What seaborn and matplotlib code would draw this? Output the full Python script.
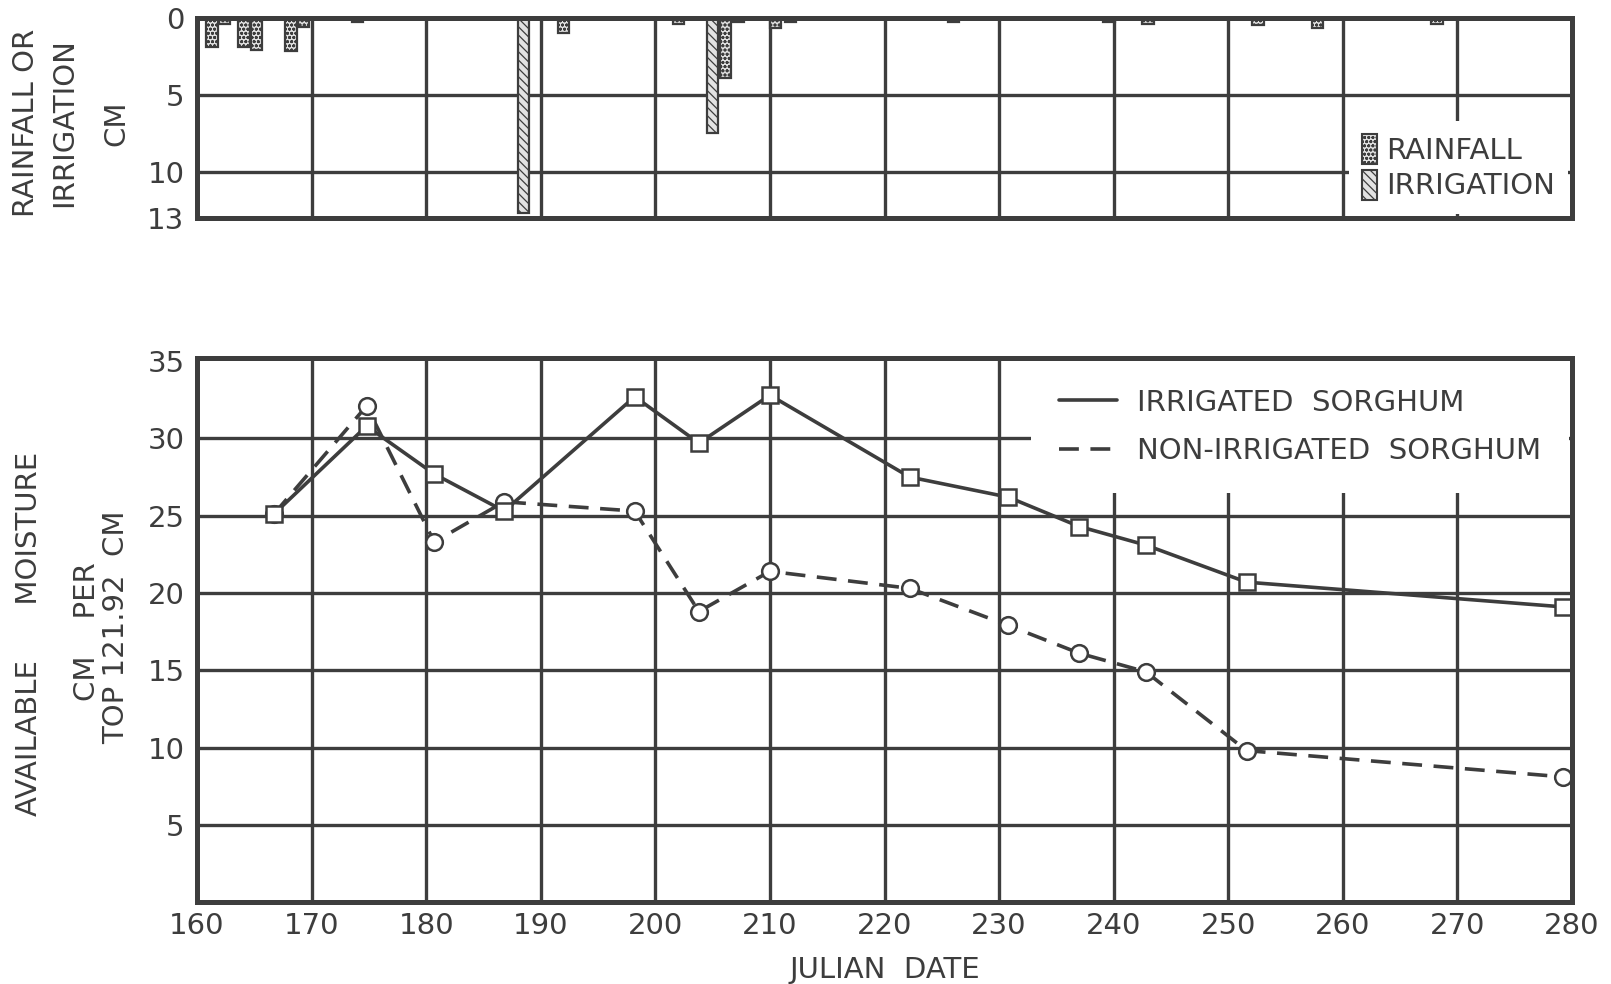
import numpy as np
import pandas as pd
import matplotlib
matplotlib.use("Agg")
import matplotlib.pyplot as plt
import seaborn as sns
from matplotlib.lines import Line2D
from matplotlib.patches import Patch

# ---------------- data ----------------
rain_days = [161.3, 162.4, 164.1, 165.2, 168.2, 169.3, 174.0, 192.0, 202.0,
             206.1, 207.2, 210.5, 211.8, 226.0, 239.6, 243.0, 252.6, 257.8, 268.2]
rain_cm = [1.9, 0.4, 1.9, 2.1, 2.2, 0.6, 0.3, 1.0, 0.4,
           3.9, 0.3, 0.7, 0.3, 0.3, 0.3, 0.4, 0.5, 0.7, 0.4]
irr_days = [188.5, 205.0]
irr_cm = [12.7, 7.5]

moist_days = [166.7, 174.8, 180.7, 186.8, 198.2, 203.8, 210.0, 222.2,
              230.8, 237.0, 242.8, 251.6, 279.2]
irrigated_sorghum = [25.1, 30.8, 27.7, 25.3, 32.7, 29.7, 32.8, 27.5,
                     26.2, 24.3, 23.1, 20.7, 19.1]
non_irrigated_sorghum = [25.1, 32.1, 23.3, 25.9, 25.3, 18.8, 21.4, 20.3,
                         17.9, 16.1, 14.9, 9.8, 8.1]

x_ticks = list(range(160, 281, 10))
top_yticks = [0, 5, 10, 13]
bottom_yticks = [5, 10, 15, 20, 25, 30, 35]
bar_labels = ["RAINFALL", "IRRIGATION"]
series_labels = ["IRRIGATED  SORGHUM", "NON-IRRIGATED  SORGHUM"]

# ---------------- style ----------------
sns.set_theme(style="white")
plt.rcParams['font.family'] = ['DejaVu Sans']
plt.rcParams['hatch.linewidth'] = 0.9
INK = '#3d3d3d'
FS = 21

fig = plt.figure(figsize=(16.11, 9.84), dpi=100)
ax_top = fig.add_axes([0.1223, 0.7785, 0.8535, 0.2037])
ax_bot = fig.add_axes([0.1223, 0.0833, 0.8535, 0.5528])

# ---------------- top panel: bars ----------------
rain_df = pd.DataFrame({"day": rain_days, "cm": rain_cm})
irr_df = pd.DataFrame({"day": irr_days, "cm": irr_cm})
bar_day_width = 1.0
w_rain = bar_day_width / np.diff(np.unique(rain_days)).min()
w_irr = bar_day_width / np.diff(np.unique(irr_days)).min()

sns.barplot(data=rain_df, x="day", y="cm", native_scale=True, orient="x",
            width=w_rain, color="#e2e2e2", saturation=1, edgecolor=INK,
            linewidth=1.6, hatch="oooo", errorbar=None, ax=ax_top, zorder=3)
sns.barplot(data=irr_df, x="day", y="cm", native_scale=True, orient="x",
            width=w_irr, color="#e2e2e2", saturation=1, edgecolor=INK,
            linewidth=1.6, hatch="\\\\\\\\", errorbar=None, ax=ax_top, zorder=3)

ax_top.set_xlim(160, 280)
ax_top.set_ylim(13, 0)
ax_top.set_xticks(x_ticks)
ax_top.set_xticklabels([])
ax_top.set_yticks(top_yticks)
ax_top.set_yticklabels([str(v) for v in top_yticks])
ax_top.set_xlabel("")
ax_top.set_ylabel("")

handles_top = [Patch(facecolor="#e2e2e2", edgecolor=INK, hatch="oooo", lw=1.5),
               Patch(facecolor="#e2e2e2", edgecolor=INK, hatch="\\\\\\\\", lw=1.5)]
leg_t = ax_top.legend(handles_top, bar_labels, loc="lower right", fontsize=FS,
                      handlelength=0.5, handleheight=1.2, handletextpad=0.3,
                      frameon=True, fancybox=False, framealpha=1,
                      facecolor="white", edgecolor="none", borderaxespad=0.15,
                      labelspacing=0.15, borderpad=0.45)
for t in leg_t.get_texts():
    t.set_color(INK)

# ---------------- bottom panel: lines ----------------
sns.lineplot(x=moist_days, y=non_irrigated_sorghum, ax=ax_bot, color=INK,
             lw=2.6, linestyle=(0, (5.5, 3.2)), marker="o", markersize=12,
             markerfacecolor="white", markeredgecolor=INK, markeredgewidth=1.8,
             zorder=4)
sns.lineplot(x=moist_days, y=irrigated_sorghum, ax=ax_bot, color=INK,
             lw=2.6, marker="s", markersize=12,
             markerfacecolor="white", markeredgecolor=INK, markeredgewidth=1.8,
             zorder=5)

ax_bot.set_xlim(160, 280)
ax_bot.set_ylim(0, 35.2)
ax_bot.set_xticks(x_ticks)
ax_bot.set_xticklabels([str(v) for v in x_ticks])
ax_bot.set_yticks(bottom_yticks)
ax_bot.set_yticklabels([str(v) for v in bottom_yticks])
ax_bot.set_ylabel("")
ax_bot.set_xlabel("JULIAN  DATE", fontsize=FS, color=INK, labelpad=12)

handles_bot = [Line2D([], [], color=INK, lw=2.6),
               Line2D([], [], color=INK, lw=2.6, linestyle=(0, (5.5, 3.2)))]
leg_b = ax_bot.legend(handles_bot, series_labels, loc="upper right", fontsize=FS,
                      handlelength=2.0, handletextpad=0.7, frameon=True,
                      fancybox=False, framealpha=1, facecolor="white",
                      edgecolor="none", borderaxespad=0.1, labelspacing=0.7,
                      borderpad=0.95)
for t in leg_b.get_texts():
    t.set_color(INK)

# ---------------- common axis styling ----------------
for ax in (ax_top, ax_bot):
    ax.set_axisbelow(True)
    ax.grid(True, color=INK, lw=2.4)
    for s in ax.spines.values():
        s.set_visible(True)
        s.set_color(INK)
        s.set_linewidth(3.6)
        s.set_zorder(10)
    ax.tick_params(axis="both", length=0, labelsize=FS, colors=INK)
    ax.tick_params(axis="y", pad=9)
    ax.tick_params(axis="x", pad=7)
    ax.set_facecolor("white")

# gridlines that coincide with the frame are not needed
ax_bot.yaxis.get_gridlines()[-1].set_visible(False)
ax_top.yaxis.get_gridlines()[0].set_visible(False)
ax_top.yaxis.get_gridlines()[-1].set_visible(False)

# ---------------- y labels ----------------
def vtext(xpx, ypx, s):
    fig.text(xpx / 1611, 1 - ypx / 984, s, rotation=90, ha="center",
             va="center", fontsize=FS, color=INK)

vtext(26, 123, "RAINFALL OR")
vtext(64, 123, "IRRIGATION")
vtext(116, 123, "CM")
vtext(29, 634, "AVAILABLE      MOISTURE")
vtext(87, 632, "CM    PER")
vtext(116, 627, "TOP 121.92  CM")

fig.savefig("out.png", dpi=100, facecolor="white")
